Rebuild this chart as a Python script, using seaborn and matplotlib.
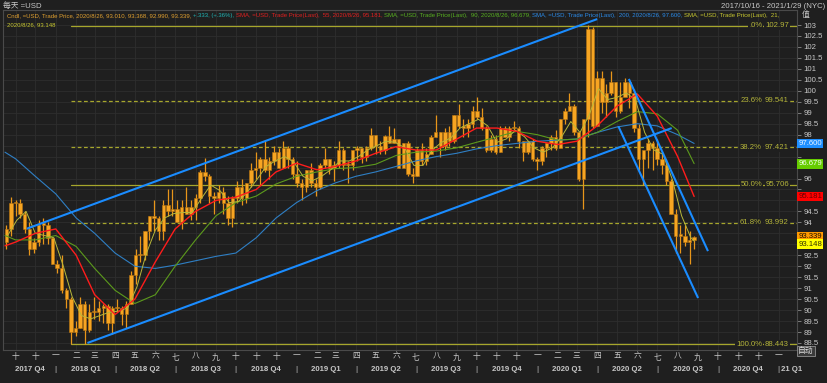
import matplotlib
matplotlib.use("Agg")
import matplotlib.pyplot as plt
import matplotlib.dates as mdates
import matplotlib.transforms as mtransforms
import numpy as np
import pandas as pd
import seaborn as sns

W, H = 828, 383

# ---------------- data (weekly candles) ----------------
week_start = "2017-10-16"
first_open = 93.10
close = [93.7, 94.9, 94.9, 94.4, 93.7, 92.8, 93.1, 93.9, 93.9, 93.3,
         92.1, 91.9, 90.9, 90.5, 89.0, 89.2, 90.3, 89.1, 89.9, 89.9,
         90.1, 90.2, 89.4, 90.1, 90.1, 89.8, 90.3, 91.6, 92.5, 92.5,
         93.6, 94.3, 94.2, 93.6, 94.8, 94.5, 94.6, 94.0, 94.7, 94.4,
         94.7, 95.1, 96.3, 96.1, 95.2, 95.1, 95.4, 94.9, 94.2, 95.1,
         95.6, 95.1, 95.8, 96.4, 96.5, 96.9, 96.4, 96.8, 97.2, 96.5,
         97.4, 96.9, 96.2, 95.8, 95.6, 96.4, 95.8, 95.6, 96.6, 96.9,
         96.5, 96.6, 97.3, 96.6, 96.6, 97.3, 97.4, 97.0, 97.4, 98.0,
         97.5, 97.3, 97.95, 97.6, 97.8, 96.5, 97.6, 96.2, 96.1, 97.3,
         96.8, 97.1, 97.9, 98.1, 97.5, 98.1, 97.7, 98.9, 98.4, 98.3,
         98.5, 99.1, 98.8, 98.3, 97.3, 97.8, 97.2, 98.3, 97.9, 98.3,
         98.3, 97.7, 97.2, 97.7, 96.9, 96.8, 97.4, 97.6, 97.9, 97.4,
         98.7, 99.1, 99.3, 98.1, 96.0, 98.7, 102.8, 98.4, 100.6, 99.5,
         99.9, 100.4, 99.1, 99.7, 100.4, 99.9, 98.3, 96.9, 97.3, 97.6,
         97.4, 96.9, 96.6, 95.9, 94.4, 93.4, 93.4, 93.1, 93.2, 93.339]
high = [93.9, 95.15, 95.0, 95.05, 94.5, 94.0, 93.3, 94.1, 94.2, 94.0,
        93.3, 92.3, 92.5, 91.0, 90.6, 89.5, 90.6, 90.4, 90.3, 90.6,
        90.4, 90.3, 90.3, 90.2, 90.5, 90.2, 90.4, 91.8, 92.8, 93.4,
        93.6, 94.3, 95.0, 94.3, 95.0, 95.5, 95.5, 95.0, 95.0, 95.6,
        95.0, 95.3, 96.4, 96.95, 96.2, 95.4, 95.7, 95.6, 95.2, 95.2,
        95.9, 96.0, 95.8, 96.7, 97.2, 97.0, 97.7, 97.0, 97.5, 97.4,
        97.7, 97.5, 97.0, 96.8, 96.0, 96.4, 96.7, 96.0, 96.7, 97.4,
        96.9, 96.8, 97.7, 97.4, 96.8, 97.3, 97.5, 97.4, 97.5, 98.3,
        98.0, 97.7, 98.0, 98.4, 98.3, 97.8, 97.6, 97.7, 96.5, 97.4,
        97.6, 97.4, 98.0, 98.9, 98.1, 98.3, 98.4, 98.9, 99.4, 98.7,
        98.7, 99.3, 99.7, 99.2, 98.4, 98.0, 98.0, 98.4, 98.4, 98.4,
        98.6, 98.4, 97.7, 97.7, 97.8, 97.0, 97.5, 97.6, 98.0, 98.2,
        98.7, 99.2, 99.9, 99.4, 98.1, 98.6, 102.99, 102.9, 100.9, 100.9,
        100.3, 100.9, 100.4, 100.4, 100.6, 100.3, 100.1, 98.5, 97.2, 97.8,
        97.7, 97.8, 97.2, 96.9, 96.0, 94.6, 93.9, 93.9, 93.6, 93.4]
low = [92.8, 93.4, 94.3, 94.2, 93.5, 92.5, 92.6, 92.9, 93.0, 93.0,
       92.1, 91.7, 90.8, 90.1, 88.45, 88.8, 89.2, 88.44, 89.0, 89.6,
       89.5, 89.4, 89.1, 88.9, 89.9, 89.3, 89.2, 90.3, 91.2, 92.2,
       92.3, 93.2, 93.6, 93.2, 93.2, 94.3, 94.3, 94.0, 93.7, 94.4,
       94.1, 94.1, 94.9, 95.9, 94.9, 94.4, 94.9, 94.4, 93.9, 93.8,
       94.9, 94.8, 94.9, 95.6, 96.0, 95.7, 96.3, 96.0, 96.6, 96.5,
       96.8, 96.5, 96.0, 95.6, 95.0, 95.4, 95.6, 95.2, 95.5, 96.5,
       96.2, 95.9, 96.5, 96.4, 95.8, 96.4, 96.8, 96.7, 96.8, 97.3,
       97.1, 97.1, 97.1, 97.6, 97.6, 96.5, 96.6, 96.1, 95.8, 96.1,
       96.6, 96.6, 97.1, 97.9, 97.0, 97.3, 97.5, 97.6, 98.3, 97.9,
       97.9, 98.3, 98.7, 98.2, 97.2, 97.2, 97.1, 97.2, 97.9, 97.7,
       98.2, 97.4, 96.8, 97.1, 96.8, 96.4, 96.6, 97.0, 97.3, 97.3,
       97.5, 98.5, 99.2, 98.0, 95.9, 94.6, 97.9, 98.3, 98.6, 99.0,
       98.8, 99.8, 98.8, 99.0, 99.8, 99.2, 98.1, 96.4, 95.7, 96.5,
       96.4, 96.6, 96.2, 95.7, 94.4, 92.6, 92.6, 92.9, 92.1, 92.8]

# moving averages (monthly samples)
sma_dates = ["2017-10-16", "2017-11-01", "2017-12-01", "2018-01-01", "2018-02-01",
             "2018-03-01", "2018-04-01", "2018-05-01", "2018-06-01", "2018-07-01",
             "2018-08-01", "2018-09-01", "2018-10-01", "2018-11-01", "2018-12-01",
             "2019-01-01", "2019-02-01", "2019-03-01", "2019-04-01", "2019-05-01",
             "2019-06-01", "2019-07-01", "2019-08-01", "2019-09-01", "2019-10-01",
             "2019-11-01", "2019-12-01", "2020-01-01", "2020-02-01", "2020-03-01",
             "2020-04-01", "2020-05-01", "2020-06-01", "2020-07-01", "2020-08-01",
             "2020-08-26"]
sma55 = [92.93, 93.1, 93.5, 93.7, 92.5, 90.7, 89.8, 90.5, 92.2, 93.7,
         94.5, 95.0, 95.15, 95.5, 96.3, 96.7, 96.4, 96.55, 96.8, 97.15,
         97.45, 97.3, 97.3, 97.8, 98.3, 98.3, 98.15, 97.7, 97.55, 97.7,
         98.4, 99.3, 99.85, 98.85, 97.0, 95.181]
sma90 = [93.4, 93.2, 93.2, 93.4, 92.9, 91.9, 90.9, 90.3, 90.7, 92.0,
         93.2, 94.3, 94.9, 95.2, 95.75, 96.1, 96.3, 96.45, 96.5, 96.65,
         97.05, 97.2, 97.25, 97.4, 97.65, 97.9, 98.15, 98.0, 97.75, 97.8,
         98.1, 98.6, 99.05, 98.95, 98.2, 96.679]
sma200 = [97.2, 96.9, 96.1, 95.3, 94.2, 93.5, 92.6, 92.0, 91.9, 92.05,
          92.25, 92.45, 92.6, 93.3, 94.2, 94.9, 95.45, 95.8, 96.1, 96.3,
          96.55, 96.8, 97.0, 97.15, 97.35, 97.5, 97.6, 97.7, 97.75, 97.8,
          98.1, 98.35, 98.5, 98.4, 98.0, 97.6]
# 21-day average, read every two weeks
sma21_start = "2017-10-20"
sma21 = [93.4, 94.1, 94.5, 93.5, 93.4, 93.3, 92.05, 90.6, 89.75, 89.6,
         89.75, 89.9, 89.95, 90.1, 91.05, 92.55, 93.65, 94.2, 94.4, 94.45,
         94.45, 95.1, 95.7, 95.45, 94.9, 94.95, 95.4, 95.95, 96.55, 96.8,
         97.0, 96.75, 96.1, 95.9, 96.1, 96.4, 96.8, 96.8, 97.0, 97.3,
         97.5, 97.7, 97.65, 97.4, 96.6, 96.6, 97.3, 97.65, 97.85, 98.3,
         98.5, 98.7, 98.4, 97.65, 97.8, 98.2, 97.9, 97.4, 97.2, 97.4,
         97.9, 98.6, 98.1, 98.9, 100.1, 99.6, 99.7, 99.9, 99.6, 98.1,
         97.3, 97.1, 95.95, 94.3, 93.3]
sma21_last_date = "2020-08-26"
sma21_last = 93.148

# Fibonacci retracement levels
fib_start = "2018-01-24"
fib_pct = [".0%", "23.6%", "38.2%", "50.0%", "61.8%", "100.0%"]
fib_val = [102.97, 99.541, 97.421, 95.706, 93.992, 88.443]
fib_txt = ["102.97", "99.541", "97.421", "95.706", "93.992", "88.443"]
fib_dash = [False, True, True, False, True, False]

# trend channel lines (date, value) pairs
chan_start_dates = ["2017-11-18", "2018-02-18", "2020-05-19", "2020-05-03"]
chan_start_vals = [93.71, 88.50, 100.54, 98.39]
chan_end_dates = ["2020-04-01", "2020-07-23", "2020-09-16", "2020-09-01"]
chan_end_vals = [103.27, 98.30, 92.69, 90.55]

# last value tags on the price axis
tag_vals = [97.600, 96.679, 95.181, 93.339, 93.148]
tag_txt = ["97.600", "96.679", "95.181", "93.339", "93.148"]
tag_bg = ["#1e8fff", "#66cc00", "#ff0000", "#ff9900", "#ffff00"]
tag_fg = ["#e8f4ff", "#f4fff0", "#6a0000", "#1a1000", "#303000"]

# ---------------- style ----------------
sns.set_theme(style="dark")
BG = "#1f1f1f"
GRID = "#2e2e2e"
TXT = "#c8c8c8"
plt.rcParams["font.family"] = ["Liberation Sans", "Noto Sans CJK SC", "DejaVu Sans"]
plt.rcParams["axes.unicode_minus"] = False

fig = plt.figure(figsize=(W / 100, H / 100), dpi=100, facecolor=BG)
L, R, T, B = 3, 797, 10, 350
ax = fig.add_axes([L / W, 1 - B / H, (R - L) / W, (B - T) / H])
ax.set_facecolor(BG)

YMIN, YMAX = 88.18, 103.684
x0 = mdates.date2num(pd.Timestamp("2017-10-13"))
x1 = mdates.date2num(pd.Timestamp("2021-01-29"))
ax.set_xlim(x0, x1)
ax.set_ylim(YMIN, YMAX)
ppu = (B - T) / (YMAX - YMIN)

# tag pixel positions (pushed apart so boxes do not overlap)
tag_pos = []
last_px = None
for v in tag_vals:
    ypx = (YMAX - v) * ppu
    if last_px is not None and ypx - last_px < 7.5:
        ypx = last_px + 7.5
    last_px = ypx
    tag_pos.append(ypx)

# grid / ticks
month_starts = pd.date_range("2017-11-01", "2021-01-01", freq="MS")
ax.set_xticks(mdates.date2num(month_starts))
cn = ["一", "二", "三", "四", "五", "六", "七", "八", "九", "十", "十", "十"]
ax.set_xticklabels([cn[m.month - 1] for m in month_starts])
yt = np.arange(88.5, 103.01, 0.5)
ax.set_yticks(yt)
ylabs = []
for v in yt:
    ypx = (YMAX - v) * ppu
    hidden = any(abs(ypx - p) < 7.5 for p in tag_pos)
    ylabs.append("" if hidden else ("%g" % v))
ax.set_yticklabels(ylabs)
for lab in ax.get_yticklabels():
    if lab.get_text() in ("100", "90"):
        lab.set_fontweight("bold")
ax.grid(True, color=GRID, lw=0.6)
ax.yaxis.tick_right()
ax.tick_params(axis="y", which="both", length=3, width=0.6, color="#8a8a8a",
               labelsize=5.6, labelcolor=TXT, pad=1.5, right=True, left=False)
ax.tick_params(axis="x", length=0, labelsize=5.6, labelcolor=TXT, pad=2.5)
for s in ax.spines.values():
    s.set_color("#4a4a4a")
    s.set_linewidth(0.8)

# ---------------- candles ----------------
dates = pd.date_range(week_start, periods=len(close), freq="7D") + pd.Timedelta(days=2)
dn = mdates.date2num(dates)
opens = np.array([first_open] + close[:-1])
cl = np.array(close)
hi = np.array(high)
lo = np.array(low)
ax.vlines(dn, lo, hi, color="#e8961a", lw=0.9, zorder=3)
body_lo = np.minimum(opens, cl)
body_h = np.maximum(np.abs(cl - opens), 0.05)
ax.bar(dn, body_h, bottom=body_lo, width=5.2, color="#f7a522",
       edgecolor="#b87410", linewidth=0.4, zorder=4)

# ---------------- moving averages ----------------
sd = pd.to_datetime(sma_dates)
df_ma = pd.DataFrame({"date": mdates.date2num(sd), "sma55": sma55,
                      "sma90": sma90, "sma200": sma200})
d21 = list(pd.date_range(sma21_start, periods=len(sma21), freq="14D")) + [pd.Timestamp(sma21_last_date)]
df21 = pd.DataFrame({"date": mdates.date2num(pd.DatetimeIndex(d21)),
                     "v": sma21 + [sma21_last]})
sns.lineplot(data=df_ma, x="date", y="sma200", ax=ax, color="#2f7fc4", lw=0.8, zorder=5)
sns.lineplot(data=df_ma, x="date", y="sma90", ax=ax, color="#5c9a1c", lw=0.8, zorder=5)
sns.lineplot(data=df21, x="date", y="v", ax=ax, color="#b8b83a", lw=0.7, zorder=5)
sns.lineplot(data=df_ma, x="date", y="sma55", ax=ax, color="#ff1c1c", lw=1.0, zorder=6)
ax.set_xlabel("")
ax.set_ylabel("")

# ---------------- fibonacci ----------------
FIB = "#a6a62c"
fs_num = mdates.date2num(pd.Timestamp(fib_start))
trb = mtransforms.blended_transform_factory(ax.transAxes, ax.transData)
for pct, v, t, dsh in zip(fib_pct, fib_val, fib_txt, fib_dash):
    ax.plot([fs_num, x1], [v, v], color=FIB, lw=0.9,
            ls=(0, (3, 2)) if dsh else "-", zorder=2)
    ax.text((762 - L) / (R - L), v, pct, transform=trb, ha="right", va="center",
            fontsize=5.6, color="#b4b43a", zorder=7,
            bbox=dict(facecolor=BG, edgecolor="none", pad=0.6))
    ax.text((789 - L) / (R - L), v, t, transform=trb, ha="right", va="center",
            fontsize=5.6, color="#b4b43a", zorder=7,
            bbox=dict(facecolor=BG, edgecolor="none", pad=0.6))

# ---------------- trend channels ----------------
for sd0, sv0, ed0, ev0 in zip(chan_start_dates, chan_start_vals, chan_end_dates, chan_end_vals):
    ax.plot(mdates.date2num(pd.to_datetime([sd0, ed0])), [sv0, ev0],
            color="#1a8cff", lw=1.5, zorder=8, solid_capstyle="butt")

# ---------------- quarter labels ----------------
trx = mtransforms.blended_transform_factory(ax.transData, ax.transAxes)
qstarts = pd.date_range("2017-10-01", "2021-01-01", freq="QS")
for i, q in enumerate(qstarts):
    qs = max(mdates.date2num(q), x0)
    qe = min(mdates.date2num(q + pd.offsets.QuarterBegin(startingMonth=1)), x1)
    qn = (q.month - 1) // 3 + 1
    if q.year == 2021:
        ax.text(mdates.date2num(q), -0.056, "|", transform=trx, ha="center", va="center",
                fontsize=6, color=TXT, clip_on=False)
        ax.text(mdates.date2num(q) + 3, -0.056, "21 Q1", transform=trx, ha="left", va="center",
                fontsize=5.6, color=TXT, fontweight="bold", clip_on=False)
        continue
    if i > 0:
        ax.text(mdates.date2num(q), -0.056, "|", transform=trx, ha="center", va="center",
                fontsize=6, color=TXT, clip_on=False)
    ax.text((qs + qe) / 2, -0.056, "%d Q%d" % (q.year, qn), transform=trx, ha="center",
            va="center", fontsize=5.6, color=TXT, fontweight="bold", clip_on=False)

# ---------------- value tags on axis ----------------
for p, t, bg, fg in zip(tag_pos, tag_txt, tag_bg, tag_fg):
    vv = YMAX - p / ppu
    ax.text(1.0015, vv, t, transform=trb, ha="left", va="center", fontsize=5.6,
            color=fg, clip_on=False, zorder=10,
            bbox=dict(facecolor=bg, edgecolor="none", boxstyle="square,pad=0.18"))

# ---------------- header texts ----------------
def ftxt(xp, yp, s, **kw):
    return fig.text(xp / W, 1 - yp / H, s, **kw)

ftxt(3, 6, "每天 =USD", fontsize=5.6, color=TXT, va="center", ha="left")
ftxt(825, 6, "2017/10/16 - 2021/1/29 (NYC)", fontsize=5.6, color=TXT, va="center", ha="right")
ftxt(806, 15, "值", fontsize=5.6, color=TXT, va="center", ha="center")
ftxt(806, 351, "自动", fontsize=5.6, color="#e0e0e0", va="center", ha="center",
     bbox=dict(facecolor="#3a3a3a", edgecolor="#909090", boxstyle="square,pad=0.15", lw=0.6))

segments = [
    ("Cndl, =USD, Trade Price, 2020/8/26, 93.010, 93.368, 92.990, 93.339, ", "#e0a030"),
    ("+.333, (+.36%), ", "#1fb5b5"),
    ("SMA, =USD, Trade Price(Last),  55, 2020/8/26, 95.181, ", "#e02020"),
    ("SMA, =USD, Trade Price(Last),  90, 2020/8/26, 96.679, ", "#58b020"),
    ("SMA, =USD, Trade Price(Last),  200, 2020/8/26, 97.600, ", "#2a8ae8"),
    ("SMA, =USD, Trade Price(Last),  21,", "#c8c830"),
]
fig.canvas.draw()
rend = fig.canvas.get_renderer()
X_START, X_END = 7, 786
fsz = 5.0
placed = []
for it in range(4):
    for t in placed:
        t.remove()
    placed = []
    xp = X_START
    for s, c in segments:
        t = ftxt(xp, 16, s, fontsize=fsz, color=c, va="center", ha="left")
        placed.append(t)
        xp = t.get_window_extent(renderer=rend).x1
    if it < 3:
        fsz *= (X_END - X_START) / (xp - X_START)
ftxt(7, 25, "2020/8/26, 93.148", fontsize=placed[0].get_fontsize(), color="#c8c830",
     va="center", ha="left")

fig.savefig("out.png", dpi=100, facecolor=BG)
